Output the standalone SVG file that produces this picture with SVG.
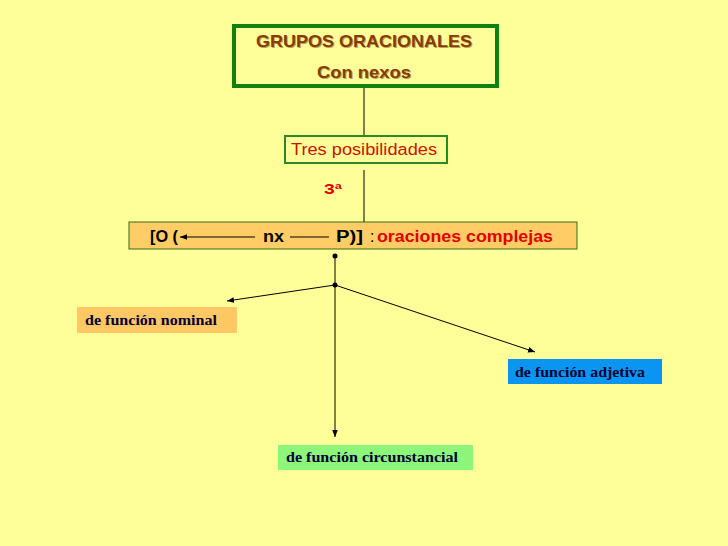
<svg xmlns="http://www.w3.org/2000/svg" width="728" height="546" viewBox="0 0 728 546">
<defs>
<style>
.sans{font-family:"Liberation Sans",Arial,sans-serif;font-weight:bold}
.ser{font-family:"Liberation Serif","Times New Roman",serif;font-weight:bold;font-size:15px;fill:#000033}
.ln{stroke:#000;stroke-width:1;fill:none}
.red{fill:#e00000}
</style>
<marker id="ah" viewBox="0 0 10 10" refX="10" refY="5" markerWidth="7" markerHeight="7" orient="auto" markerUnits="userSpaceOnUse">
<path d="M0,1 L10,5 L0,9 Z" fill="#000"/>
</marker>
</defs>
<rect width="728" height="546" fill="#FFFF99"/>
<g id="connectors">
<line class="ln" x1="364" y1="88" x2="364" y2="135"/>
<line class="ln" x1="364" y1="170" x2="364" y2="222"/>
<line class="ln" x1="335" y1="256" x2="335" y2="285"/>
<line class="ln" x1="335" y1="285" x2="227" y2="301" marker-end="url(#ah)"/>
<line class="ln" x1="335" y1="285" x2="535" y2="352" marker-end="url(#ah)"/>
<line class="ln" x1="335" y1="285" x2="335" y2="437" marker-end="url(#ah)"/>
<circle cx="335" cy="256" r="2.5" fill="#000"/>
<circle cx="335" cy="285" r="2.5" fill="#000"/>
</g>
<g id="title">
<rect x="234" y="26" width="263" height="60" fill="#FFFF99" stroke="#108010" stroke-width="4"/>
<text class="sans" x="257" y="48" font-size="17" textLength="216" lengthAdjust="spacingAndGlyphs" fill="#4a2000" opacity="0.4">GRUPOS ORACIONALES</text>
<text class="sans" x="256" y="47" font-size="17" textLength="216" lengthAdjust="spacingAndGlyphs" fill="#8a3a00">GRUPOS ORACIONALES</text>
<text class="sans" x="318" y="79" font-size="17" textLength="94" lengthAdjust="spacingAndGlyphs" fill="#4a2000" opacity="0.4">Con nexos</text>
<text class="sans" x="317" y="78" font-size="17" textLength="94" lengthAdjust="spacingAndGlyphs" fill="#8a3a00">Con nexos</text>
</g>
<g id="tres">
<rect x="285" y="136" width="162" height="27" fill="#FFFF99" stroke="#2a8a2a" stroke-width="2"/>
<text x="291" y="155" font-family="Liberation Sans, Arial, sans-serif" font-size="16" textLength="146" lengthAdjust="spacingAndGlyphs" fill="#cc1100">Tres posibilidades</text>
</g>
<g id="tercera">
<text class="sans red" x="324" y="194" font-size="15" textLength="18" lengthAdjust="spacingAndGlyphs">3ª</text>
</g>
<g id="complejas">
<rect x="129" y="222" width="448" height="27" fill="#FFCC66" stroke="#3a6a1a" stroke-width="1"/>
<text class="sans" x="150" y="242" font-size="16" textLength="28" lengthAdjust="spacingAndGlyphs" fill="#000">[O (</text>
<line class="ln" x1="255" y1="237" x2="180" y2="237" marker-end="url(#ah)"/>
<text class="sans" x="263" y="242" font-size="16" textLength="21" lengthAdjust="spacingAndGlyphs" fill="#000">nx</text>
<line class="ln" x1="290" y1="237" x2="329" y2="237"/>
<text class="sans" x="336" y="242" font-size="16" textLength="27" lengthAdjust="spacingAndGlyphs" fill="#000">P)]</text>
<text x="370" y="242" font-family="Liberation Sans, Arial, sans-serif" font-size="16" fill="#000">:</text>
<text class="sans red" x="377" y="242" font-size="16" textLength="176" lengthAdjust="spacingAndGlyphs">oraciones complejas</text>
</g>
<g id="nominal">
<rect x="77" y="307" width="160" height="26" fill="#FFC864"/>
<text class="ser" x="85" y="325" textLength="132" lengthAdjust="spacingAndGlyphs">de función nominal</text>
</g>
<g id="adjetiva">
<rect x="508" y="359" width="154" height="25" fill="#0A96F0"/>
<text class="ser" x="515" y="377" textLength="130" lengthAdjust="spacingAndGlyphs">de función adjetiva</text>
</g>
<g id="circunstancial">
<rect x="278" y="445" width="195" height="25" fill="#8CF57A"/>
<text class="ser" x="286" y="462" textLength="172" lengthAdjust="spacingAndGlyphs">de función circunstancial</text>
</g>
</svg>
